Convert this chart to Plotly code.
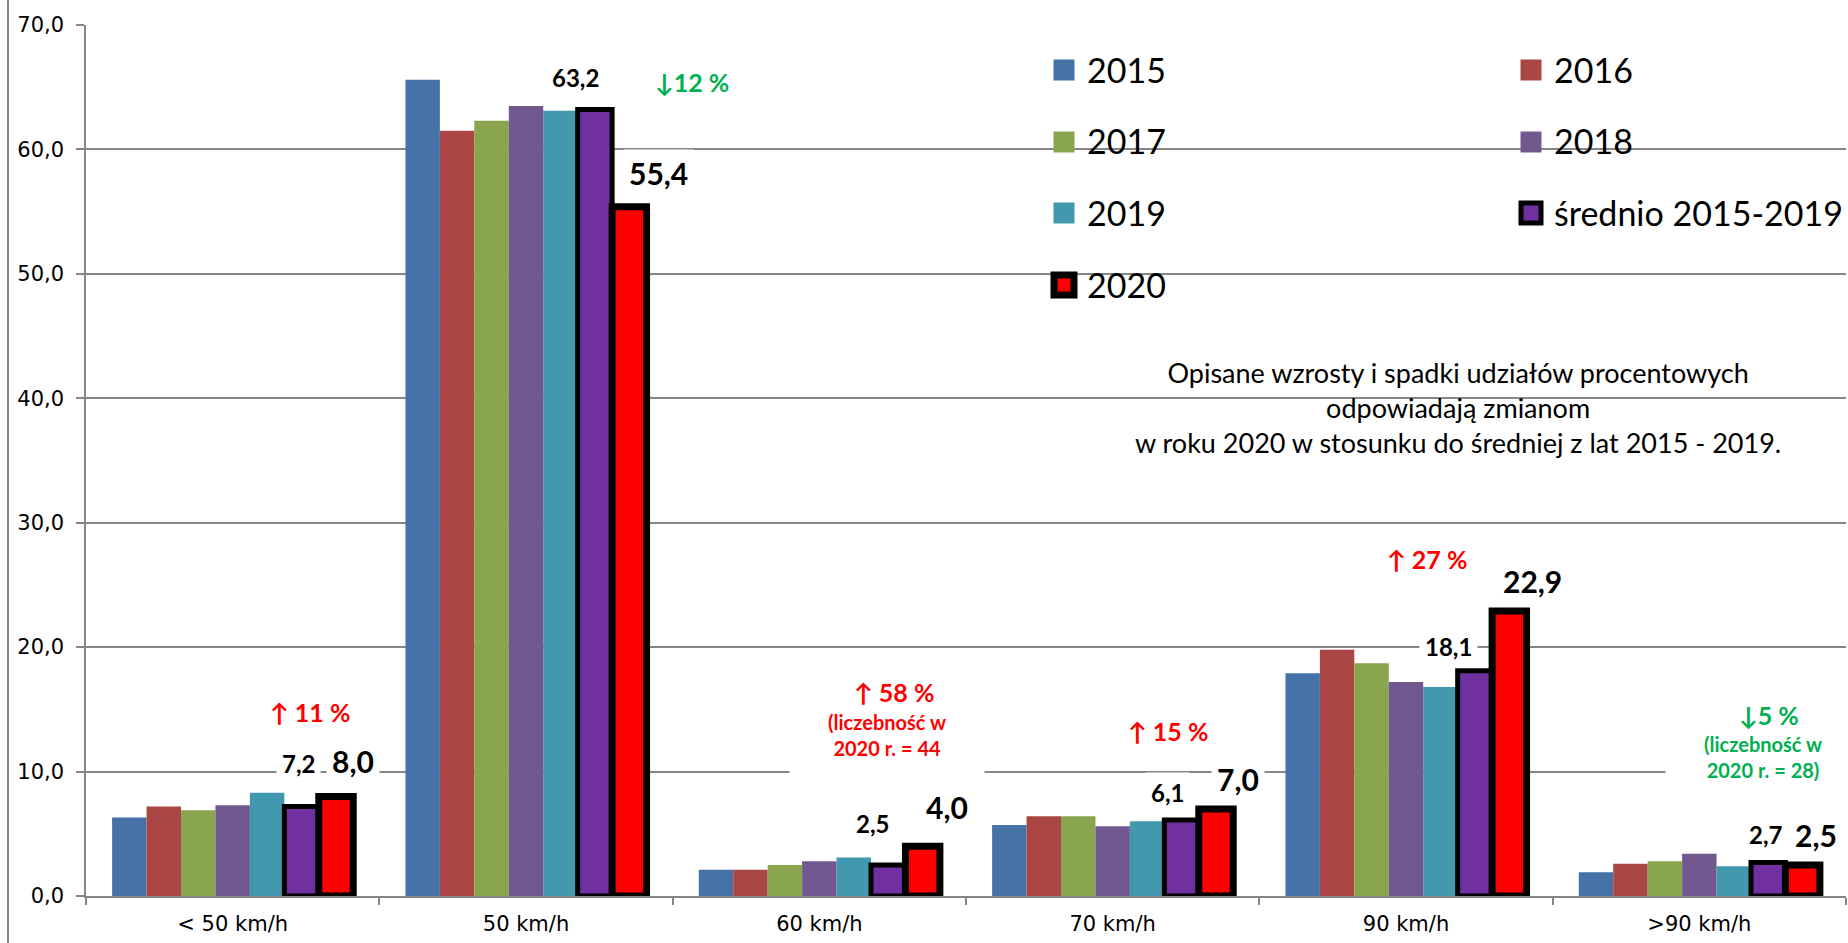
import plotly.graph_objects as go

# ---------------- data ----------------
categories = ["< 50 km/h", "50 km/h", "60 km/h", "70 km/h", "90 km/h", ">90 km/h"]
series_names = ["2015", "2016", "2017", "2018", "2019", "średnio 2015-2019", "2020"]
v2015 = [6.3, 65.6, 2.1, 5.7, 17.9, 1.9]
v2016 = [7.2, 61.5, 2.1, 6.4, 19.8, 2.6]
v2017 = [6.9, 62.3, 2.5, 6.4, 18.7, 2.8]
v2018 = [7.3, 63.5, 2.8, 5.6, 17.2, 3.4]
v2019 = [8.3, 63.1, 3.1, 6.0, 16.8, 2.4]
avg_2015_2019 = [7.2, 63.2, 2.5, 6.1, 18.1, 2.7]
v2020 = [8.0, 55.4, 4.0, 7.0, 22.9, 2.5]
pct_changes = ["↑ 11 %", "↓12 %", "↑ 58 %", "↑ 15 %", "↑ 27 %", "↓5 %"]
pct_notes = ["", "", "(liczebność w<br>2020 r. = 44", "", "", "(liczebność w<br>2020 r. = 28)"]
y_ticks = [0, 10, 20, 30, 40, 50, 60, 70]
note_text = ("Opisane wzrosty i spadki udziałów procentowych<br>"
             "odpowiadają zmianom<br>"
             "w roku 2020 w stosunku do średniej z lat 2015 - 2019.")

# ---------------- styles / layout ----------------
colors = ["#4572A7", "#AA4643", "#89A54E", "#71588F", "#4198AF", "#7030A0", "#FF0000"]
outline_w = [0, 0, 0, 0, 0, 5, 7]
RED, GREEN = "#FF0000", "#00B050"
GRID = "#868686"

FIG_W, FIG_H = 1848, 943
L, R, T, B = 86, 2, 25, 47
PW, PH = FIG_W - L - R, FIG_H - T - B
BARGAP = 0.178
NSER = len(series_names)
BW = (1 - BARGAP) / NSER  # bar width in category units


def px_x(px):
    return (px - L) / PW


def px_y(py):
    return (T + PH - py) / PH


# label offsets (pixels, relative to bar centre / bar top)
avg_dx = [-3, -19, -16, -14, -26, -2]
avg_dy = [43, 32, 41, 28, 24, 28]
new_dx = [17, 29, 24, 22, 23, 13]
new_dy = [35, 34, 39, 30, 30, 30]
# percent-change annotation centres (pixels)
pct_px = [(310, 712), (692, 82), (894, 692), (1168, 731), (1427, 559), (1769, 715)]
note_px = [None, None, (887, 735), None, None, (1763, 757)]

all_series = [v2015, v2016, v2017, v2018, v2019, avg_2015_2019, v2020]

fig = go.Figure()
for name, vals, col, lw in zip(series_names, all_series, colors, outline_w):
    fig.add_trace(go.Bar(
        name=name, x=categories, y=vals,
        marker=dict(color=col, line=dict(color="black", width=lw)),
        showlegend=False, hoverinfo="x+y+name",
    ))


def fmt(v):
    return f"{v:.1f}".replace(".", ",")


ann = []
# data labels for average and 2020
for i in range(len(categories)):
    for k, vals, dxs, dys, size in ((5, avg_2015_2019, avg_dx, avg_dy, 24),
                                    (6, v2020, new_dx, new_dy, 30)):
        ann.append(dict(
            x=i + (k - (NSER - 1) / 2) * BW, y=vals[i], xref="x", yref="y",
            xshift=dxs[i], yshift=dys[i],
            text=f"<b>{fmt(vals[i])}</b>", showarrow=False,
            font=dict(family="Lato", size=size, color="black"),
            bgcolor="white", borderpad=5, xanchor="center", yanchor="middle",
        ))

# notes boxes (white background) first, then the percent texts
for i, note in enumerate(pct_notes):
    if note:
        col = GREEN if pct_changes[i].startswith("↓") else RED
        nx, ny = note_px[i]
        ann.append(dict(
            x=px_x(nx), y=px_y(ny), xref="paper", yref="paper",
            text=f"<b>{note}</b>", showarrow=False,
            font=dict(family="Lato", size=20, color=col),
            bgcolor="white", width=178, height=64, borderpad=8,
            xanchor="center", yanchor="middle",
        ))
for i, txt in enumerate(pct_changes):
    col = GREEN if txt.startswith("↓") else RED
    px, py = pct_px[i]
    ann.append(dict(
        x=px_x(px), y=px_y(py), xref="paper", yref="paper",
        text=f"<b>{txt}</b>", showarrow=False,
        font=dict(family="Lato", size=25, color=col),
        xanchor="center", yanchor="middle",
    ))

# explanatory note
ann.append(dict(
    x=px_x(1458), y=px_y(407), xref="paper", yref="paper",
    text=note_text, showarrow=False, align="center",
    font=dict(family="Lato", size=27, color="black"),
    xanchor="center", yanchor="middle",
))

shapes = [
    # white boxes behind legend and the note (hide gridlines)
    dict(type="rect", xref="paper", yref="paper", layer="between",
         x0=px_x(976), x1=px_x(1860), y0=px_y(305), y1=px_y(33),
         fillcolor="white", line=dict(width=0)),
    dict(type="rect", xref="paper", yref="paper", layer="between",
         x0=px_x(1108), x1=px_x(1803), y0=px_y(470), y1=px_y(345),
         fillcolor="white", line=dict(width=0)),
    # outer chart border on the left
    dict(type="line", xref="paper", yref="paper",
         x0=px_x(8), x1=px_x(8), y0=px_y(0), y1=px_y(943),
         line=dict(color=GRID, width=2)),
]

# manual legend: 2 columns, 4 rows
leg_cols = [1064, 1531]
leg_rows = [70, 142, 213, 285]
for idx, (name, col, lw) in enumerate(zip(series_names, colors, outline_w)):
    cx = leg_cols[idx % 2]
    cy = leg_rows[idx // 2]
    half = 10.5 if lw == 0 else 10
    shapes.append(dict(
        type="rect", xref="paper", yref="paper", layer="above",
        x0=px_x(cx - half), x1=px_x(cx + half),
        y0=px_y(cy + half), y1=px_y(cy - half),
        fillcolor=col, line=dict(color="black", width=lw) if lw else dict(width=0),
    ))
    ann.append(dict(
        x=px_x(cx + 21), y=px_y(cy - 1), xref="paper", yref="paper",
        text=name, showarrow=False,
        font=dict(family="Lato", size=34, color="black"),
        xanchor="left", yanchor="middle",
    ))

fig.update_layout(
    width=FIG_W, height=FIG_H,
    margin=dict(l=L, r=R, t=T, b=B, pad=0),
    paper_bgcolor="white", plot_bgcolor="white",
    barmode="group", bargap=BARGAP, bargroupgap=0,
    separators=", ",
    showlegend=False,
    annotations=ann, shapes=shapes,
    font=dict(family="DejaVu Sans", color="black"),
)
fig.update_xaxes(
    type="category", showgrid=False, showline=True, linecolor=GRID, linewidth=1.5,
    ticks="outside", tickson="boundaries", ticklen=7, tickcolor=GRID, tickwidth=1.5,
    tickfont=dict(family="DejaVu Sans", size=21, color="black"),
    ticklabelstandoff=8,
)
fig.update_yaxes(
    range=[0, 70], tickvals=y_ticks, tickformat=".1f",
    showgrid=True, gridcolor=GRID, gridwidth=1.5, zeroline=False,
    showline=True, linecolor=GRID, linewidth=1.5,
    ticks="outside", ticklen=8, tickcolor=GRID, tickwidth=1.5,
    tickfont=dict(family="DejaVu Sans", size=21, color="black"),
    ticklabelstandoff=8,
)

fig.write_html("out.html", config={"displayModeBar": False},
               post_script="document.body.style.margin='0px';")
